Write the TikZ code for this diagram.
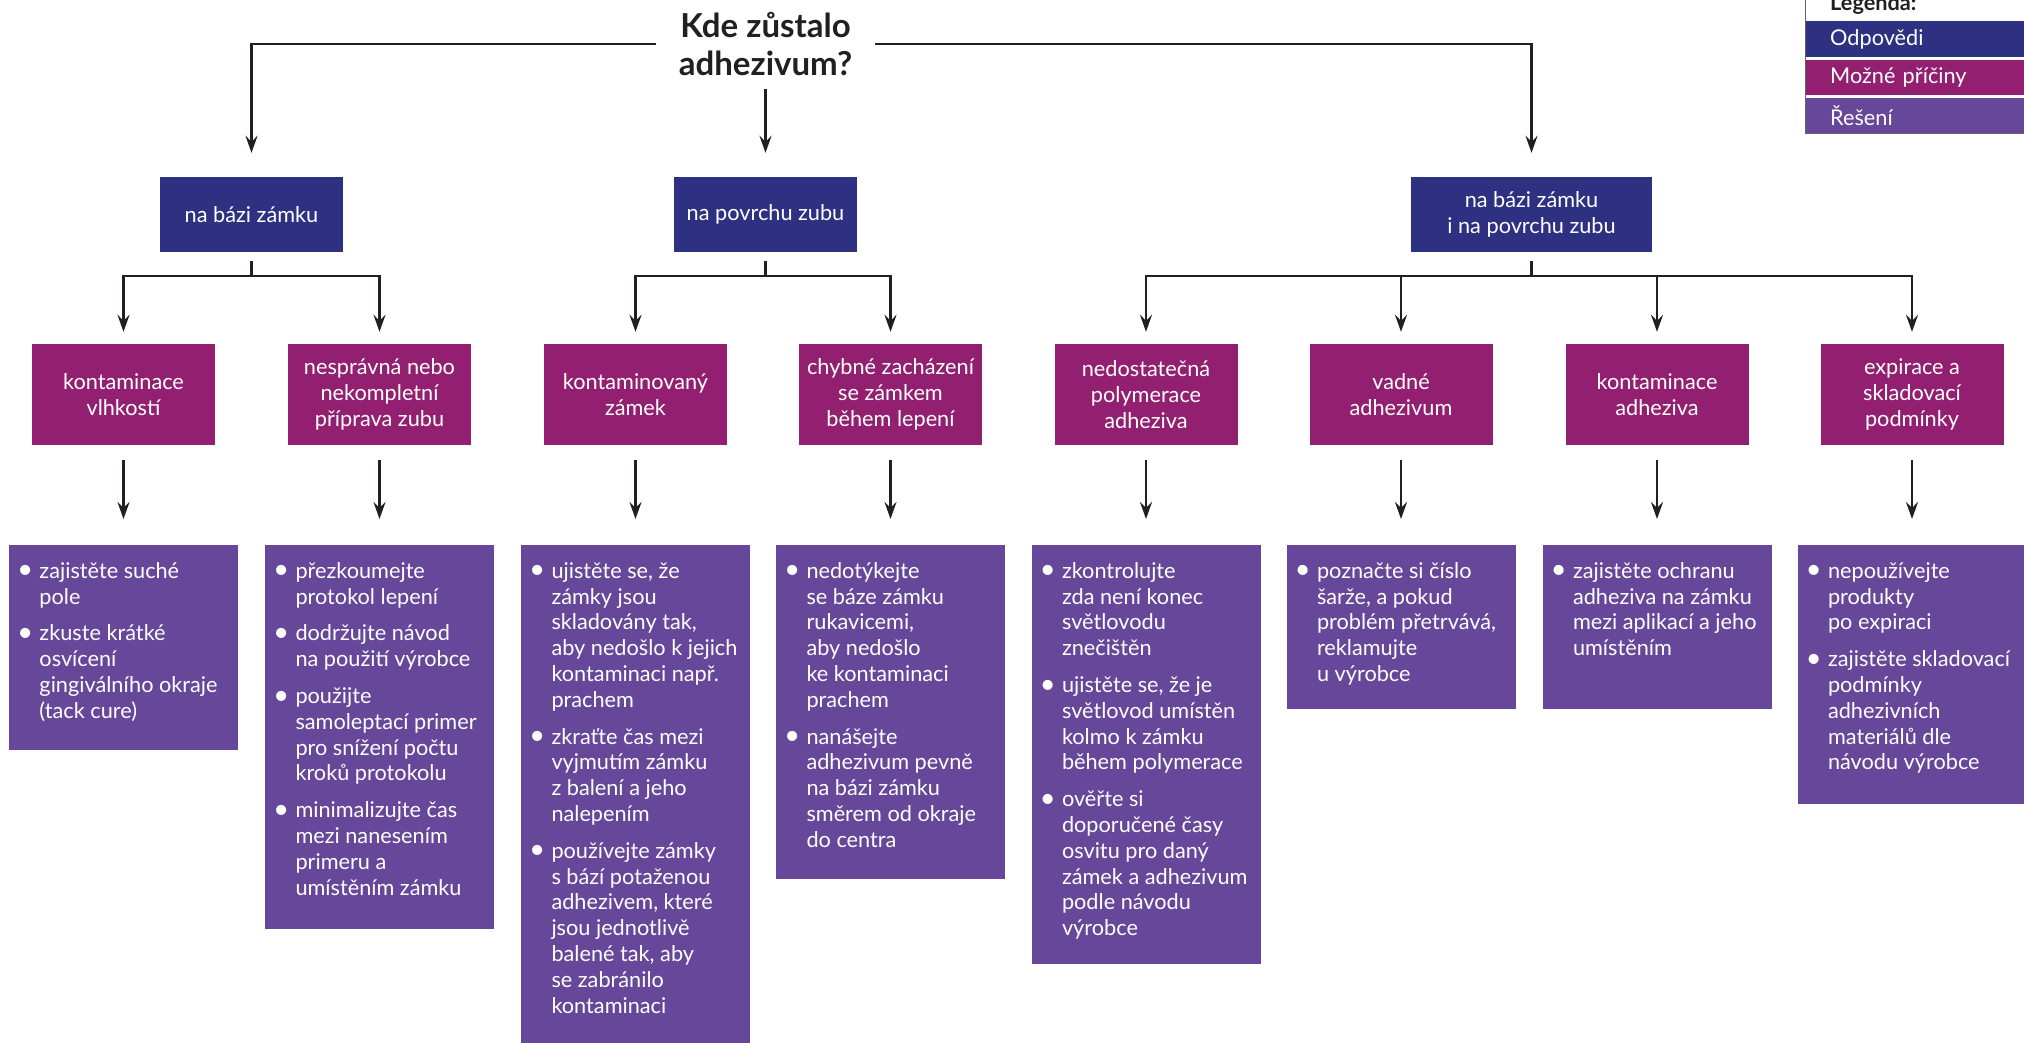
\documentclass[tikz,border=0pt]{standalone}
\usepackage{fontspec}
\setmainfont{Lato}
\usetikzlibrary{arrows.meta}
\definecolor{navy}{HTML}{2E3082}
\definecolor{mag}{HTML}{931F71}
\definecolor{purp}{HTML}{66479A}
\definecolor{linec}{HTML}{231F20}
\newcommand\fs{\fontsize{21.7}{25.8}\selectfont}
\newcommand\bul{\llap{\raisebox{-0.6pt}{\scalebox{1.25}{•}}\hspace{6.5pt}}}
\newcommand\itm[1]{\par\leftskip=30.5pt\noindent\bul#1\par}
\newcommand\itmf[1]{\par\leftskip=30.5pt\noindent\bul\rule{0pt}{33pt}#1\par}
\newcommand\solbox[2]{\parbox[t][#1][t]{229pt}{\raggedright\parskip=11pt\leftskip=30.5pt #2}}
\begin{document}
\begin{tikzpicture}[x=1pt,y=-1pt,
  conn/.style={draw=linec, line width=2.4pt},
  arr/.style={conn, -{Stealth[length=17pt,width=12pt,inset=6pt]}},
  ans/.style={fill=navy, text=white, minimum width=183pt, minimum height=75pt, inner sep=0pt, align=center, font=\fs},
  cause/.style={fill=mag, text=white, minimum width=183pt, minimum height=101pt, inner sep=0pt, align=center, font=\fs},
  sol/.style={fill=purp, text=white, inner sep=0pt, anchor=north, font=\fs},
  legrow/.style={anchor=north west, text=white, minimum height=#1, text width=195pt, inner xsep=25pt, inner ysep=0pt, align=left, font=\fs}
]
\useasboundingbox[fill=white] (0,0) rectangle (2024,1042);

% title
\node[minimum width=219pt, minimum height=90pt, inner sep=0pt, align=center,
      font=\fontsize{33}{38.5}\selectfont\bfseries, text=linec] (title) at (765.5,44) {Kde zůstalo\\adhezivum?};

% answers
\node[ans] (a1) at (251.5,214.5) {na bázi zámku};
\node[ans] (a2) at (765.5,214.5) {na povrchu zubu};
\node[ans, minimum width=241pt] (a3) at (1531.5,214.5) {na bázi zámku\\i na povrchu zubu};

% causes
\node[cause] (c1) at (123.5,394.5) {kontaminace\\vlhkostí};
\node[cause] (c2) at (379.5,394.5) {nesprávná nebo\\nekompletní\\příprava zubu};
\node[cause] (c3) at (635.5,394.5) {kontaminovaný\\zámek};
\node[cause] (c4) at (890.5,394.5) {chybné zacházení\\se zámkem\\během lepení};
\node[cause] (c5) at (1146,394.5) {nedostatečná\\polymerace\\adheziva};
\node[cause] (c6) at (1401,394.5) {vadné\\adhezivum};
\node[cause] (c7) at (1657,394.5) {kontaminace\\adheziva};
\node[cause] (c8) at (1912,394.5) {expirace a\\skladovací\\podmínky};

% solutions
\node[sol] (s1) at (123.5,545) {\solbox{205pt}{%
\itmf{zajistěte suché\\pole}
\itm{zkuste krátké\\osvícení\\gingiválního okraje\\(tack cure)}}};
\node[sol] (s2) at (379.5,545) {\solbox{384pt}{%
\itmf{přezkoumejte\\protokol lepení}
\itm{dodržujte návod\\na použití výrobce}
\itm{použijte\\samoleptací primer\\pro snížení počtu\\kroků protokolu}
\itm{minimalizujte čas\\mezi nanesením\\primeru a\\umístěním zámku}}};
\node[sol] (s3) at (635.5,545) {\solbox{510pt}{%
\itmf{ujistěte se, že\\zámky jsou\\skladovány tak,\\aby nedošlo k jejich\\kontaminaci např.\\prachem}
\itm{zkraťte čas mezi\\vyjmutím zámku\\z balení a jeho\\nalepením}
\itm{používejte zámky\\s bází potaženou\\adhezivem, které\\jsou jednotlivě\\balené tak, aby\\se zabránilo\\kontaminaci}}};
\node[sol] (s4) at (890.5,545) {\solbox{334pt}{%
\itmf{nedotýkejte\\se báze zámku\\rukavicemi,\\aby nedošlo\\ke kontaminaci\\prachem}
\itm{nanášejte\\adhezivum pevně\\na bázi zámku\\směrem od okraje\\do centra}}};
\node[sol] (s5) at (1146,545) {\solbox{419pt}{%
\itmf{zkontrolujte\\zda není konec\\světlovodu\\znečištěn}
\itm{ujistěte se, že je\\světlovod umístěn\\kolmo k zámku\\během polymerace}
\itm{ověřte si\\doporučené časy\\osvitu pro daný\\zámek a adhezivum\\podle návodu\\výrobce}}};
\node[sol] (s6) at (1401,545) {\solbox{164pt}{%
\itmf{poznačte si číslo\\šarže, a pokud\\problém přetrvává,\\reklamujte\\u výrobce}}};
\node[sol] (s7) at (1657,545) {\solbox{164pt}{%
\itmf{zajistěte ochranu\\adheziva na zámku\\mezi aplikací a jeho\\umístěním}}};
\node[sol] (s8) at (1912,545) {\solbox{259pt}{%
\itmf{nepoužívejte\\produkty\\po expiraci}
\itm{zajistěte skladovací\\podmínky\\adhezivních\\materiálů dle\\návodu výrobce}}};

% top connectors
\draw[arr, shorten >=24pt] (title.west) -| (a1.north);
\draw[arr, shorten >=24pt] (title.east) -| (a3.north);
\draw[arr, shorten >=24pt] (title.south) -- (a2.north);

% branches
\coordinate (j1) at (251.5,276);
\coordinate (j2) at (765.5,276);
\coordinate (j3) at (1531.5,276);
\draw[conn, shorten <=9pt] (a1.south) -- (j1);
\draw[conn, shorten <=9pt] (a2.south) -- (j2);
\draw[conn, shorten <=9pt] (a3.south) -- (j3);
\foreach \j/\c in {j1/c1,j1/c2,j2/c3,j2/c4,j3/c5,j3/c6,j3/c7,j3/c8}
  \draw[arr, shorten >=12pt] (\j) -| (\c.north);
\foreach \i in {1,...,8}
  \draw[arr, shorten <=15pt, shorten >=26pt] (c\i.south) -- (s\i.north);

% legend
\node[legrow=36pt, fill=navy] (l1) at (1805,21) {Odpovědi};
\node[legrow=35pt, fill=mag] (l2) at (1805,60) {Možné příčiny};
\node[legrow=35pt, fill=purp] (l3) at (1805,98) {Řešení};
\node[anchor=base west, inner sep=0pt, font=\fs\bfseries, text=linec] (lh) at (1830,10) {Legenda:};
\draw[draw=linec!70, line width=1pt] (1805,-5) |- (2030,133.5);
\end{tikzpicture}
\end{document}
